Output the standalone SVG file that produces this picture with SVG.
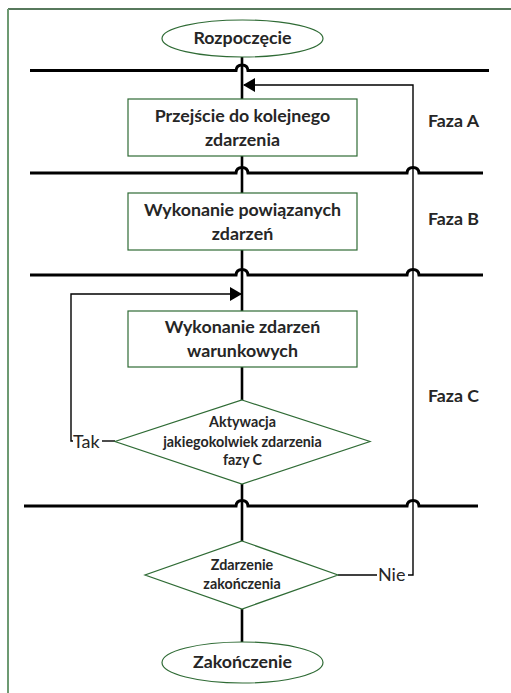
<svg xmlns="http://www.w3.org/2000/svg" width="511" height="693" viewBox="0 0 511 693">
  <defs>
    <style>
      .node-shape { fill: #ffffff; stroke: #2f6b35; stroke-width: 1.2; }
      .label { font-family: Lato, "Liberation Sans", sans-serif; font-weight: bold; fill: #262626; text-anchor: middle; }
      .big { font-size: 17.8px; }
      .small { font-size: 14.3px; }
      .branch { font-family: Lato, "Liberation Sans", sans-serif; font-size: 18px; fill: #262626; }
      .phase-line { fill: none; stroke: #000; stroke-width: 3; }
      .main-flow { fill: none; stroke: #000; stroke-width: 2.6; }
      .loop { fill: none; stroke: #000; stroke-width: 1.4; }
    </style>
    <marker id="arrow" viewBox="0 0 12 14" refX="11" refY="7" markerWidth="12" markerHeight="14" markerUnits="userSpaceOnUse" orient="auto">
      <path d="M0,0 L12,7 L0,14 Z" fill="#000"/>
    </marker>
  </defs>

  <!-- page frame -->
  <line x1="8" y1="9" x2="511" y2="9" stroke="#1f4d26" stroke-width="1.6"/>
  <line x1="8" y1="9" x2="8" y2="693" stroke="#6d9a72" stroke-width="2"/>

  <g id="connectors">
    <!-- phase separators, hopping over the vertical flows -->
    <path class="phase-line" d="M30,70.5 L236,70.5 Q236.5,65 242,65 Q247.5,65 248,70.5 L489,70.5"/>
    <path class="phase-line" d="M30,173 L236,173 Q236.5,167.5 242,167.5 Q247.5,167.5 248,173 L407,173 Q407.5,167.5 413,167.5 Q418.5,167.5 419,173 L483,173"/>
    <path class="phase-line" d="M30,275 L236,275 Q236.5,269.5 242,269.5 Q247.5,269.5 248,275 L407,275 Q407.5,269.5 413,269.5 Q418.5,269.5 419,275 L483,275"/>
    <path class="phase-line" d="M24,506 L236,506 Q236.5,500.5 242,500.5 Q247.5,500.5 248,506 L407,506 Q407.5,500.5 413,500.5 Q418.5,500.5 419,506 L478,506"/>

    <!-- main vertical flow -->
    <line class="main-flow" x1="242" y1="57" x2="242" y2="99"/>
    <line class="main-flow" x1="242" y1="156" x2="242" y2="193"/>
    <line class="main-flow" x1="242" y1="250" x2="242" y2="311"/>
    <line class="main-flow" x1="242" y1="367" x2="242" y2="400"/>
    <line class="main-flow" x1="242" y1="484" x2="242" y2="541"/>
    <line class="main-flow" x1="242" y1="609" x2="242" y2="642"/>

    <!-- "Nie" loop back to phase A -->
    <line class="loop" x1="338" y1="575" x2="377" y2="575"/>
    <path class="loop" d="M408,575 L413,575 L413,85 L244,85" marker-end="url(#arrow)"/>

    <!-- "Tak" loop back into phase C -->
    <line class="loop" x1="102" y1="441" x2="115" y2="441"/>
    <path class="loop" d="M73,441 L71,441 L71,294 L241,294" marker-end="url(#arrow)"/>
  </g>

  <g id="start">
    <ellipse class="node-shape" cx="242.5" cy="38.5" rx="80.5" ry="18.5"/>
    <text class="label big" x="242.5" y="44">Rozpoczęcie</text>
  </g>

  <g id="next-event">
    <rect class="node-shape" x="128" y="99" width="229" height="57"/>
    <text class="label big" x="242.5" y="122">Przejście do kolejnego</text>
    <text class="label big" x="242.5" y="146">zdarzenia</text>
  </g>

  <g id="bound-events">
    <rect class="node-shape" x="128" y="193" width="229" height="57"/>
    <text class="label big" x="242.5" y="216">Wykonanie powiązanych</text>
    <text class="label big" x="242.5" y="240">zdarzeń</text>
  </g>

  <g id="conditional-events">
    <rect class="node-shape" x="128" y="311" width="229" height="56"/>
    <text class="label big" x="242.5" y="333">Wykonanie zdarzeń</text>
    <text class="label big" x="242.5" y="357">warunkowych</text>
  </g>

  <g id="c-activation">
    <polygon class="node-shape" points="242,400 370,441.5 242,484 115,441.5"/>
    <text class="label small" x="242.5" y="427">Aktywacja</text>
    <text class="label small" x="242.5" y="446.5">jakiegokolwiek zdarzenia</text>
    <text class="label small" x="242.5" y="465">fazy C</text>
  </g>

  <g id="end-check">
    <polygon class="node-shape" points="242,541 338,575 242,609 145,575"/>
    <text class="label small" x="242" y="570">Zdarzenie</text>
    <text class="label small" x="242" y="588.5">zakończenia</text>
  </g>

  <g id="finish">
    <ellipse class="node-shape" cx="242.5" cy="662.5" rx="80.5" ry="20.5"/>
    <text class="label big" x="242.5" y="668">Zakończenie</text>
  </g>

  <g id="branch-labels">
    <text class="branch" x="73" y="448">Tak</text>
    <text class="branch" x="378" y="581">Nie</text>
  </g>

  <g id="phases">
    <text class="label big" x="453.5" y="127">Faza A</text>
    <text class="label big" x="453.5" y="225">Faza B</text>
    <text class="label big" x="453.5" y="402">Faza C</text>
  </g>
</svg>
